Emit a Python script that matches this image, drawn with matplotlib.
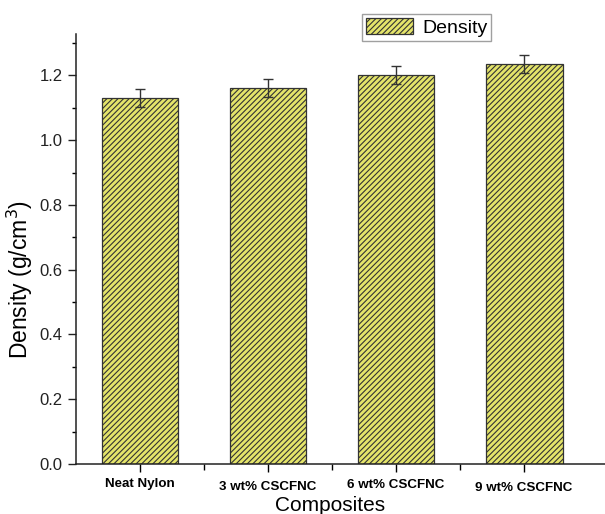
import matplotlib.pyplot as plt
import numpy as np

plt.rcParams['font.family'] = ['Liberation Sans', 'DejaVu Sans']
plt.rcParams['hatch.color'] = '#3a3a3a'
plt.rcParams['hatch.linewidth'] = 0.8

# data
categories = ['Neat Nylon', '3 wt% CSCFNC', '6 wt% CSCFNC', '9 wt% CSCFNC']
density = [1.13, 1.16, 1.20, 1.235]
errors = [0.027, 0.028, 0.028, 0.028]

fig = plt.figure(figsize=(6.05, 5.14), dpi=100)
ax = fig.add_axes([0.1256, 0.0973, 0.874, 0.8366])

x = np.arange(1, len(categories) + 1)
bars = ax.bar(x, density, width=0.6, color='#e4e46a', edgecolor='#333333',
              linewidth=0.9, hatch='//////', label='Density')
ax.errorbar(x, density, yerr=errors, fmt='none', ecolor='#333333',
            elinewidth=1.0, capsize=3.5, capthick=1.0)

ax.set_xlim(0.5, 4.63)
ax.set_ylim(0, 1.328)
ax.set_yticks(np.arange(0, 1.21, 0.2))
ax.set_yticks(np.arange(0.1, 1.32, 0.2), minor=True)
ax.set_xticks(x)
ax.set_xticks(x[:-1] + 0.5, minor=True)
ax.set_xticklabels(categories, fontsize=9.6, fontweight='bold')
# staggered labels like the original
for lbl, dy in zip(ax.get_xticklabels(), [0, -3, -1, -4]):
    lbl.set_y(lbl.get_position()[1] + dy / 430.0)

ax.tick_params(axis='y', which='major', labelsize=12, length=6, width=1,
               colors='#222222')
ax.tick_params(axis='y', which='minor', length=3, width=1)
ax.tick_params(axis='x', which='major', length=6, width=1, pad=4)
ax.tick_params(axis='x', which='minor', length=4, width=1)

for s in ['top', 'right']:
    ax.spines[s].set_visible(False)
for s in ['left', 'bottom']:
    ax.spines[s].set_linewidth(1.1)
    ax.spines[s].set_color('#222222')

ax.set_ylabel('Density (g/cm$^3$)', fontsize=16.5)
ax.yaxis.set_label_coords(-0.078, 0.43)
ax.set_xlabel('Composites', fontsize=15)
ax.xaxis.set_label_coords(0.48, -0.074)

leg = fig.legend(handles=[bars], loc='upper left',
                 bbox_to_anchor=(362 / 605, 1 - 14 / 514),
                 fontsize=14, frameon=True, fancybox=False,
                 edgecolor='#888888', handlelength=2.4, handleheight=0.9,
                 borderpad=0.2, handletextpad=0.5, borderaxespad=0)
leg.get_frame().set_linewidth(1.0)

fig.savefig('out.png', dpi=100)
